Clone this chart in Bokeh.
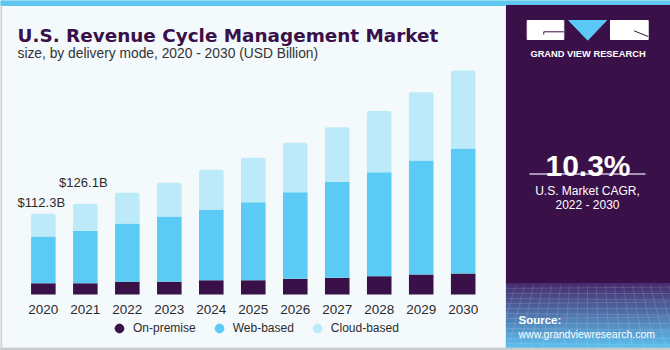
from bokeh.plotting import figure
from bokeh.models import Range1d, Label, Legend, LegendItem, ColumnDataSource
from bokeh.core.properties import value
from bokeh.embed import file_html
from bokeh.resources import INLINE

# ---------------- data (USD Billion) ----------------
years = [2020, 2021, 2022, 2023, 2024, 2025, 2026, 2027, 2028, 2029, 2030]
year_labels = ["2020", "2021", "2022", "2023", "2024", "2025", "2026", "2027", "2028", "2029", "2030"]
on_premise = [15.7, 15.7, 17.7, 17.7, 19.9, 19.9, 21.8, 23.2, 25.5, 27.8, 29.2]
web_based = [65.0, 72.9, 81.1, 90.9, 98.4, 108.5, 120.5, 133.6, 144.7, 158.6, 174.0]
cloud_based = [31.6, 37.5, 42.6, 46.9, 55.2, 61.8, 68.7, 76.0, 84.9, 95.0, 108.5]
series_names = ["On-premise", "Web-based", "Cloud-based"]
series_colors = ["#3A1048", "#5BCBF5", "#BDEAF9"]
label_years = [2020, 2021]
label_texts = ["$112.3B", "$126.1B"]
title_text = "U.S. Revenue Cycle Management Market"
subtitle_text = "size, by delivery mode, 2020 - 2030 (USD Billion)"
cagr_value = "10.3%"
cagr_lines = ["U.S. Market CAGR,", "2022 - 2030"]
brand_text = "GRAND VIEW RESEARCH"
source_lines = ["Source:", "www.grandviewresearch.com"]

totals = [a + b + c for a, b, c in zip(on_premise, web_based, cloud_based)]
label_vals = [totals[years.index(y)] for y in label_years]

# ---------------- figure ----------------
W, H = 670, 350
BG = "#F4F9FC"
PURPLE = "#3A1048"
FONT = "Liberation Sans"
HEAVY = "DejaVu Sans"


def Y(top_px):
    """convert a top-down pixel row into the canvas coordinate"""
    return H - top_px


p = figure(width=W, height=H, x_range=Range1d(0, W), y_range=Range1d(0, H),
           output_backend="svg", toolbar_location=None, min_border=0,
           x_axis_location=None, y_axis_location=None)
p.grid.visible = False
p.outline_line_color = None
p.background_fill_color = BG
p.border_fill_color = BG

# value / year scales mapped onto the canvas
px_per_year = 41.985
x0_px = 42.85
p.extra_x_ranges = {"yr": Range1d(years[0] - x0_px / px_per_year,
                                  years[0] + (W - x0_px) / px_per_year)}
bn_per_px = 1.391
base_px = 294.0
p.extra_y_ranges = {"val": Range1d(-(H - base_px) * bn_per_px, base_px * bn_per_px)}

# ---------------- decorations ----------------
p.quad(left=0, right=W, top=H, bottom=Y(5), color="#5DC7EF")
p.quad(left=0, right=1.2, top=Y(5), bottom=0, color="#CDD2D6")
p.segment(x0=505, y0=Y(5), x1=505, y1=Y(347), color="#E2E8EC", line_width=1)
p.quad(left=506, right=W, top=Y(5), bottom=Y(283), color=PURPLE)

# gradient strip of the panel
c_top = (70, 45, 110)
c_bot = (92, 190, 236)
n_b = 32
g_top, g_bot = 283.0, 347.5
for i in range(n_b):
    t = i / (n_b - 1)
    col = "#%02x%02x%02x" % tuple(int(round(a + (b - a) * t)) for a, b in zip(c_top, c_bot))
    y_a = g_top + (g_bot - g_top) * i / n_b
    y_b = g_top + (g_bot - g_top) * (i + 1) / n_b
    p.quad(left=506, right=W, top=Y(y_a), bottom=Y(y_b) - 0.3, color=col)
# faint wireframe
for k in range(12):
    yy = 288 + k * 5
    p.segment(x0=506, y0=Y(yy), x1=W, y1=Y(yy + (k % 3 - 1) * 1.5), color="white", alpha=0.13, line_width=1)
for k in range(20):
    xx = 506 + k * 9
    p.segment(x0=xx, y0=Y(285), x1=xx + (xx - 588) * 0.25, y1=Y(347), color="white", alpha=0.13, line_width=1)

p.quad(left=0, right=W, top=Y(347.6), bottom=0, color="#C9CCCF")

# logo
p.quad(left=526.7, right=563.3, top=Y(20), bottom=Y(39), color="white")
p.quad(left=610, right=647.7, top=Y(20), bottom=Y(39), color="white")
p.patch(x=[568.3, 606, 587.2], y=[Y(20), Y(20), Y(39.7)], color="#5BC8F5")
p.segment(x0=543.3, y0=Y(31.3), x1=563.3, y1=Y(31.3), color=PURPLE, line_width=1)
p.segment(x0=543.3, y0=Y(31.3), x1=543.3, y1=Y(34), color=PURPLE, line_width=1)
p.segment(x0=633.5, y0=Y(30.3), x1=647.7, y1=Y(36), color=PURPLE, line_width=1)
p.add_layout(Label(x=587.5, y=Y(53.5), text=brand_text, text_align="center",
                   text_baseline="alphabetic", text_color="white", text_font=FONT,
                   text_font_style="bold", text_font_size="9.3px"))

# CAGR block
p.add_layout(Label(x=587.5, y=Y(165), text=cagr_value, text_align="center",
                   text_baseline="alphabetic", text_color="white", text_font=FONT,
                   text_font_style="bold", text_font_size="30px"))
p.segment(x0=529, y0=Y(173.5), x1=645, y1=Y(173.5), color="#C9C0D8", line_width=1.5)
for i, t in enumerate(cagr_lines):
    p.add_layout(Label(x=587, y=Y(190 + 14 * i), text=t, text_align="center",
                       text_baseline="alphabetic", text_color="white", text_font=FONT,
                       text_font_size="12px"))

# source
p.add_layout(Label(x=518, y=Y(319.5), text=source_lines[0], text_baseline="alphabetic",
                   text_color="white", text_font=FONT, text_font_style="bold",
                   text_font_size="11.5px"))
p.add_layout(Label(x=518, y=Y(333.5), text=source_lines[1], text_baseline="alphabetic",
                   text_color="white", text_font=FONT, text_font_size="10.5px"))

# titles
p.add_layout(Label(x=17, y=Y(35), text=title_text, text_baseline="alphabetic",
                   text_color=PURPLE, text_font=HEAVY, text_font_style="bold",
                   text_font_size="18.4px"))
p.add_layout(Label(x=17, y=Y(52.5), text=subtitle_text, text_baseline="alphabetic",
                   text_color="#333333", text_font=FONT, text_font_size="13.8px"))

# ---------------- bars ----------------
src = ColumnDataSource(dict(year=years, label=year_labels, on=on_premise,
                            web=web_based, cloud=cloud_based))
rs = p.vbar_stack(["on", "web", "cloud"], x="year", width=0.585, source=src,
                  color=series_colors, line_color=None,
                  x_range_name="yr", y_range_name="val")
rs[-1].glyph.border_radius = (2, 2, 0, 0)

# year tick labels
p.text(x="year", y=0, text="label", source=src, x_range_name="yr", y_range_name="val",
       y_offset=15.3, text_align="center", text_baseline="alphabetic",
       text_color="#2b2b2b", text_font=value(FONT), text_font_size="13.5px")

# value labels
for yr, v, txt, off in zip(label_years, label_vals, label_texts, [11.6, 21.6]):
    p.add_layout(Label(x=yr, y=v, x_range_name="yr", y_range_name="val", text=txt,
                       text_align="center", text_baseline="alphabetic", x_offset=-2,
                       y_offset=off, text_color="#2b2b2b", text_font=FONT,
                       text_font_size="13px"))

# legend (markers drawn off-canvas only to supply the legend glyphs)
dummies = [p.scatter(x=[-100], y=[-100], marker="circle", color=c) for c in series_colors]
legend = Legend(items=[LegendItem(label=n, renderers=[r]) for n, r in zip(series_names, dummies)],
                orientation="horizontal", location=(108, 11),
                glyph_width=22, glyph_height=22, label_standoff=3, spacing=12,
                padding=0, margin=0, border_line_color=None, background_fill_alpha=0,
                label_text_font=FONT, label_text_font_size="12px",
                label_text_color="#2b2b2b", label_height=22)
p.add_layout(legend)

open("out.html", "w").write(file_html(p, INLINE))
